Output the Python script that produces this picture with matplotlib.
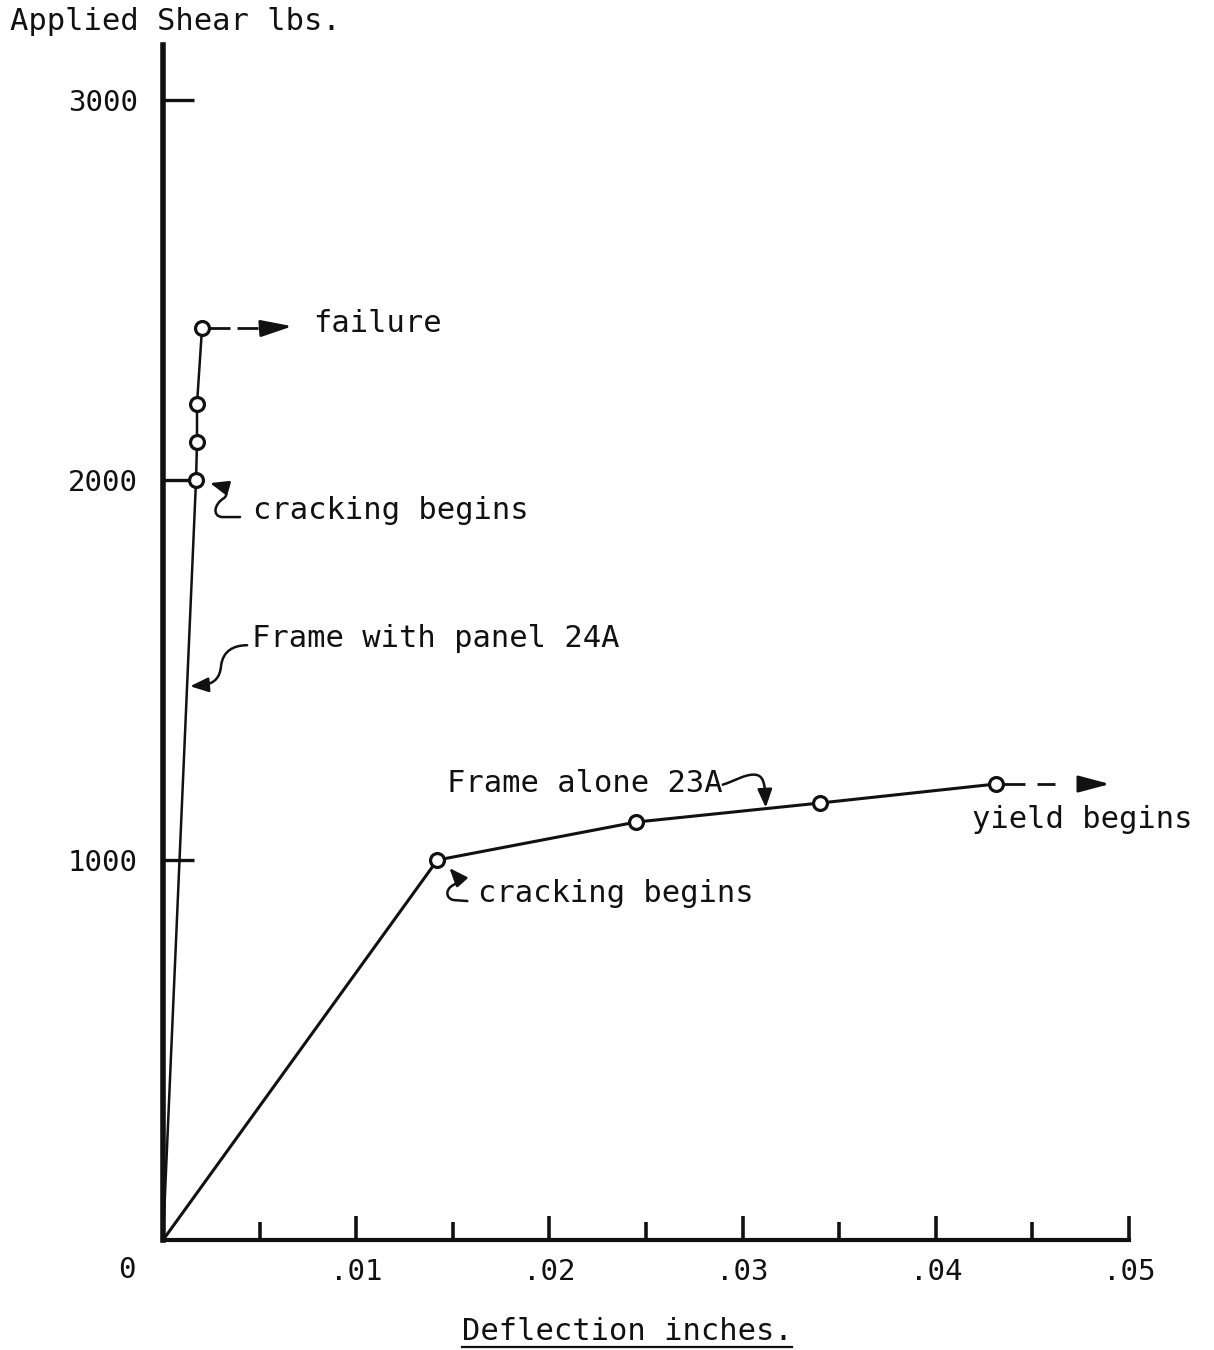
import numpy as np
import matplotlib
matplotlib.use("Agg")
import matplotlib.pyplot as plt
import matplotlib.transforms as mtransforms
from matplotlib.patches import FancyArrowPatch
from matplotlib.path import Path

# Load-deflection readings
frame_alone_x = [0.0, 0.0142, 0.0245, 0.0340, 0.0431]
frame_alone_y = [0, 1000, 1100, 1150, 1200]
panel_x = [0.0, 0.00171, 0.00176, 0.00176, 0.00202]
panel_y = [0, 2000, 2100, 2200, 2400]

x_major = [0.01, 0.02, 0.03, 0.04, 0.05]
x_major_labels = [".01", ".02", ".03", ".04", ".05"]
x_minor = [0.005, 0.015, 0.025, 0.035, 0.045]
y_major = [1000, 2000, 3000]
y_major_labels = ["1000", "2000", "3000"]

FONT = "DejaVu Sans Mono"
INK = "#111111"
W, H = 1214, 1350

fig = plt.figure(figsize=(W / 100, H / 100), dpi=100)
ax = fig.add_axes([163 / W, 1 - 1240 / H, (1129 - 163) / W, (1240 - 45) / H])
ax.set_facecolor("none")

# curves
ax.plot(frame_alone_x, frame_alone_y, color=INK, lw=2.2, zorder=3,
        clip_on=False)
ax.plot(frame_alone_x[1:], frame_alone_y[1:], "o", ms=10, mfc="white",
        mec=INK, mew=2.3, zorder=4, clip_on=False)
ax.plot(panel_x, panel_y, color=INK, lw=1.8, zorder=3, clip_on=False)
ax.plot(panel_x[1:], panel_y[1:], "o", ms=10, mfc="white", mec=INK,
        mew=2.3, zorder=4, clip_on=False)

# axes styling
for s in ("top", "right"):
    ax.spines[s].set_visible(False)
ax.spines["left"].set_linewidth(4.0)
ax.spines["bottom"].set_linewidth(3.0)
ax.spines["left"].set_color(INK)
ax.spines["bottom"].set_color(INK)

ax.set_xticks(x_major)
ax.set_xticklabels(x_major_labels)
ax.set_xticks(x_minor, minor=True)
ax.set_yticks(y_major)
ax.set_yticklabels(y_major_labels)
ax.tick_params(axis="x", which="major", direction="in", length=17, width=2.6,
               pad=13, labelsize=21, color=INK, labelcolor=INK)
ax.tick_params(axis="x", which="minor", direction="in", length=13, width=2.6,
               color=INK)
ax.tick_params(axis="y", which="major", direction="in", length=22, width=2.4,
               pad=18, labelsize=21, color=INK, labelcolor=INK)
for lab in ax.get_xticklabels() + ax.get_yticklabels():
    lab.set_family(FONT)

ax.set_xlim(0, 0.05)
ax.set_ylim(0, 3145)

# zero label at the origin
ax.annotate("0", xy=(0, 0), xytext=(-36, -38), textcoords="offset pixels",
            ha="center", va="baseline", fontsize=21, family=FONT, color=INK,
            annotation_clip=False)


def at(x, y):
    """Pixel-offset transform anchored at a data point."""
    return mtransforms.Affine2D() + mtransforms.ScaledTranslation(
        x, y, ax.transData)


def label(text, x, y, dx, dy, ha="left"):
    ax.annotate(text, xy=(x, y), xytext=(dx, dy), textcoords="offset pixels",
                ha=ha, va="baseline", fontsize=22, family=FONT, color=INK,
                annotation_clip=False)


def curve_arrow(x, y, verts, codes):
    p = FancyArrowPatch(path=Path(verts, codes),
                        arrowstyle="-|>,head_length=0.55,head_width=0.22",
                        mutation_scale=20, lw=1.8, color=INK,
                        transform=at(x, y), clip_on=False, zorder=5)
    ax.add_patch(p)


def dashed_arrow(x, y, pieces, head):
    tr = at(x, y)
    for (a, b) in pieces:
        ax.plot([a, b], [0, 0], color=INK, lw=2.0, transform=tr,
                clip_on=False, solid_capstyle="butt")
    p = FancyArrowPatch(head[0], head[1],
                        arrowstyle="-|>,head_length=1.2,head_width=0.32",
                        mutation_scale=16, lw=2.0, color=INK, transform=tr,
                        clip_on=False, zorder=5)
    ax.add_patch(p)


M, L, C = Path.MOVETO, Path.LINETO, Path.CURVE4
SQUIGGLE = [M, L, C, C, C, C, C, L]
HOOK = [M, C, C, C, C, C, C, L]

# failure
dashed_arrow(panel_x[-1], panel_y[-1], [(6, 28), (35, 56)],
             ((64, 0), (93, 2)))
label("failure", panel_x[-1], panel_y[-1], 111, -4)

# cracking of the panel frame
curve_arrow(panel_x[1], panel_y[1],
            [(44, -37), (26, -37), (16, -36), (18, -24), (28, -18),
             (32, -15), (32, -8), (14, -3)],
            SQUIGGLE)
label("cracking begins", panel_x[1], panel_y[1], 57, -39)

# frame with panel label, pointing at the rising line
v_panel = 1460
x_panel = np.interp(v_panel, panel_y[:2], panel_x[:2])
curve_arrow(x_panel, v_panel,
            [(60, 40), (46, 40), (36, 34), (34, 20), (33, 8), (28, 2),
             (16, 0), (3, -1)],
            HOOK)
label("Frame with panel 24A", x_panel, v_panel, 65, 38)

# frame alone label, hooked onto the upper branch
x_alone = 0.0312
v_alone = np.interp(x_alone, frame_alone_x, frame_alone_y)
curve_arrow(x_alone, v_alone,
            [(-43, 24), (-30, 28), (-22, 34), (-12, 34), (-4, 34), (-2, 28),
             (-1, 20), (0, 1)],
            HOOK)
label("Frame alone 23A", x_alone, v_alone, -43, 17, ha="right")

# cracking of the bare frame
curve_arrow(frame_alone_x[1], frame_alone_y[1],
            [(30, -41), (16, -40), (8, -38), (8, -29), (16, -25),
             (22, -22), (20, -17), (12, -8)],
            SQUIGGLE)
label("cracking begins", frame_alone_x[1], frame_alone_y[1], 41, -42)

# yield
dashed_arrow(frame_alone_x[-1], frame_alone_y[-1], [(6, 29), (41, 59)],
             ((80, 0), (117, 0)))
label("yield begins", frame_alone_x[-1], frame_alone_y[-1], -24, -44)

# axis titles
fig.text(10 / W, 1 - 30 / H, "Applied Shear lbs.", ha="left", va="baseline",
         fontsize=22, family=FONT, color=INK)
xt = fig.text(627 / W, 1 - 1340 / H, "Deflection inches.", ha="center",
              va="baseline", fontsize=22, family=FONT, color=INK)
fig.canvas.draw()
bb = xt.get_window_extent()
fig.add_artist(plt.Line2D([bb.x0 / W, bb.x1 / W], [1 - 1347 / H] * 2,
                          color=INK, lw=1.6, transform=fig.transFigure))

fig.savefig("out.png", dpi=100, facecolor="white")
